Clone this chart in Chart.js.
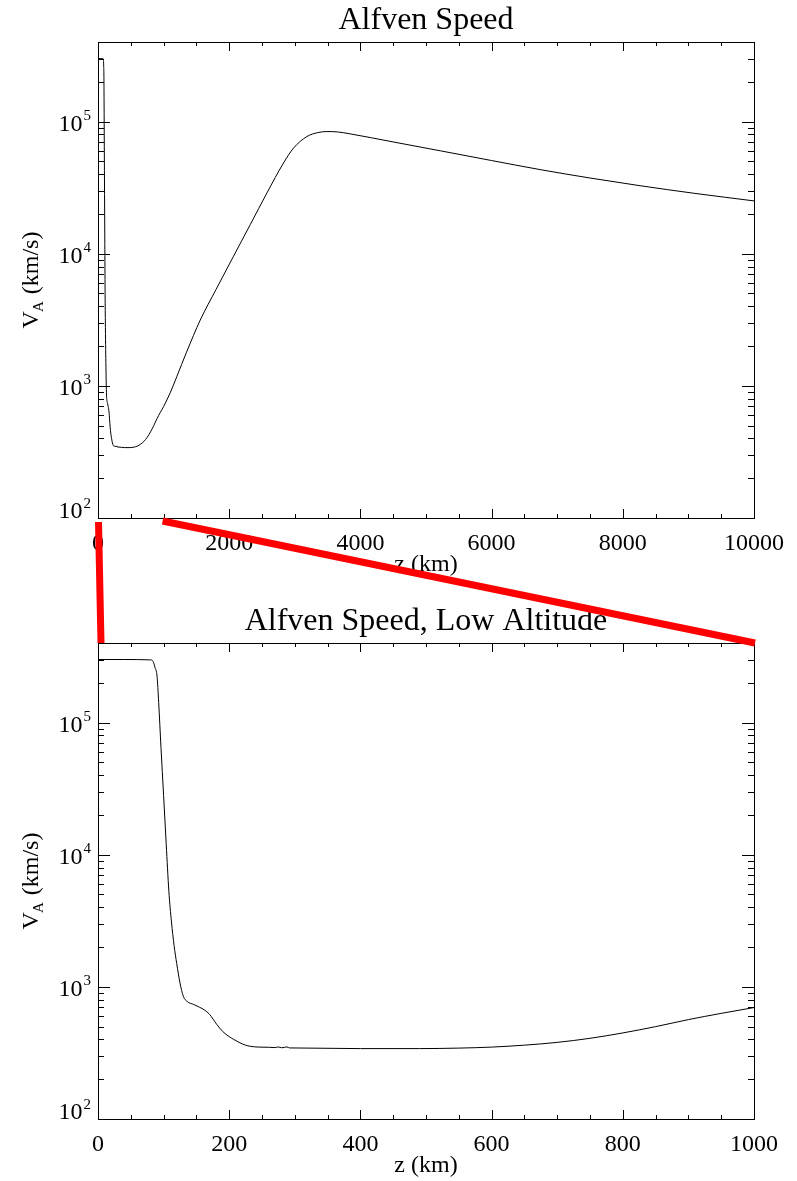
<!DOCTYPE html>
<html>
<head>
<meta charset="utf-8">
<script src="https://cdn.jsdelivr.net/npm/chart.js@4"></script>
<style>
  body { margin: 0; background: #fff; }
  #wrap { position: relative; width: 797px; height: 1181px; }
  canvas { position: absolute; left: 0; display: block; }
</style>
</head>
<body>
<div id="wrap">
  <canvas id="topChart" width="797" height="590" style="top:0"></canvas>
  <canvas id="lowChart" width="797" height="591" style="top:590px"></canvas>
  <canvas id="overlay" width="797" height="1181" style="top:0;pointer-events:none"></canvas>
</div>
<script>
// ---------- Data ----------

// low altitude profile, z in km
const lowZ = [0, 40, 80, 84, 87, 90, 92.5, 96, 100, 104, 108, 112, 116, 120, 125, 130, 136,
  146, 155, 162, 170, 181, 190, 200, 207, 215, 225, 232, 245, 260, 270, 275, 280,
  288, 292, 320, 400, 490, 550, 600, 650, 700, 750, 800, 850, 900, 950, 1000];
const lowVA = [3.0e5, 3.0e5, 2.98e5, 2.9e5, 2.6e5, 2.25e5, 1.42e5, 6.5e4, 2.8e4, 1.2e4, 5.3e3, 3.1e3,
  2.05e3, 1.5e3, 1.07e3, 850, 775, 735, 700, 670, 620, 520, 460, 420, 400, 380, 362, 355,
  350, 349, 347, 351, 346, 351, 345, 344, 341, 341, 344, 350, 362, 380, 408, 448, 500,
  565, 630, 697];

// higher altitude profile, z in km
const highZ = [1100, 1200, 1350, 1559, 1800, 2066, 2321, 2575, 2828, 2981, 3184, 3350, 3489, 3650,
  3844, 4500, 5216, 6000, 6739, 7500, 8263, 9100, 10000];
const highVA = [885, 1170, 1800, 3150, 5370, 9570, 1.66e4, 2.88e4, 4.86e4, 6.3e4, 7.7e4, 8.25e4, 8.4e4,
  8.35e4, 8.07e4, 7.01e4, 6.01e4, 5.07e4, 4.33e4, 3.74e4, 3.27e4, 2.86e4, 2.51e4];

const topXTicks = [0, 2000, 4000, 6000, 8000, 10000];
const lowXTicks = [0, 200, 400, 600, 800, 1000];
const yDecades = [100, 1000, 10000, 100000];
const yMin = 100, yMax = 4e5;

const FONT = '"Liberation Serif", "Times New Roman", serif';

// ---------- IDL style axes: inside ticks on all sides, 10^n labels ----------
function line(ctx, x1, y1, x2, y2) {
  ctx.beginPath(); ctx.moveTo(x1, y1); ctx.lineTo(x2, y2); ctx.stroke();
}

const idlAxes = {
  id: "idlAxes",
  afterDraw(chart, args, opts) {
    const { ctx, chartArea: a, scales: { x, y } } = chart;
    ctx.save();
    ctx.strokeStyle = "#000";
    ctx.lineWidth = 1;
    ctx.strokeRect(Math.round(a.left) + 0.5, Math.round(a.top) + 0.5,
      Math.round(a.right - a.left), Math.round(a.bottom - a.top));

    // x ticks, 4 minor intervals per major
    const ticks = opts.xTicks;
    const step = (ticks[1] - ticks[0]) / 4;
    for (let v = ticks[0]; v <= ticks[ticks.length - 1] + 1e-9; v += step) {
      const px = Math.round(x.getPixelForValue(v)) + 0.5;
      const len = ticks.includes(v) ? 9 : 4;
      line(ctx, px, a.bottom, px, a.bottom - len);
      line(ctx, px, a.top, px, a.top + len);
    }
    // y ticks, log minors
    yDecades.forEach(d => {
      for (let k = 1; k <= 9; k++) {
        const v = d * k;
        if (v < yMin || v > yMax) continue;
        const py = Math.round(y.getPixelForValue(v)) + 0.5;
        const len = k === 1 ? 12 : 6;
        line(ctx, a.left, py, a.left + len, py);
        line(ctx, a.right, py, a.right - len, py);
      }
    });

    ctx.fillStyle = "#000";
    ctx.textBaseline = "alphabetic";
    // x tick labels
    ctx.font = "24px " + FONT;
    ctx.textAlign = "center";
    ticks.forEach(v => ctx.fillText(String(v), x.getPixelForValue(v), a.bottom + 32));
    ctx.fillText("z (km)", (a.left + a.right) / 2, a.bottom + 53);

    // y tick labels 10^n (the lowest one is lifted off the x axis)
    yDecades.forEach(d => {
      const py = y.getPixelForValue(d);
      const base = d === yMin ? py : py + 9;
      const exp = String(Math.round(Math.log10(d)));
      ctx.font = "15px " + FONT;
      const ew = ctx.measureText(exp).width;
      ctx.textAlign = "right";
      ctx.fillText(exp, a.left - 7, base - 10.5);
      ctx.font = "24px " + FONT;
      ctx.fillText("10", a.left - 8 - ew, base);
    });

    // title
    ctx.textAlign = "center";
    ctx.font = "32px " + FONT;
    ctx.fillText(opts.title, (a.left + a.right) / 2, a.top - 12.7);

    // y axis title V_A (km/s), rotated
    ctx.save();
    ctx.translate(38, (a.top + a.bottom) / 2);
    ctx.rotate(-Math.PI / 2);
    ctx.textAlign = "left";
    ctx.font = "24px " + FONT;
    const wV = ctx.measureText("V").width;
    const wRest = ctx.measureText(" (km/s)").width;
    ctx.font = "15px " + FONT;
    const wA = ctx.measureText("A").width;
    let sx = -(wV + wA + wRest) / 2;
    ctx.font = "24px " + FONT;
    ctx.fillText("V", sx, 0);
    ctx.font = "15px " + FONT;
    ctx.fillText("A", sx + wV - 1, 5);
    ctx.font = "24px " + FONT;
    ctx.fillText(" (km/s)", sx + wV + wA, 0);
    ctx.restore();

    ctx.restore();
  }
};

function makeChart(id, zs, vs, xMax, xTicks, title, pad) {
  return new Chart(document.getElementById(id), {
    type: "line",
    data: {
      datasets: [{
        data: zs.map((z, i) => ({ x: z, y: vs[i] })),
        borderColor: "#000",
        borderWidth: 1,
        pointRadius: 0,
        cubicInterpolationMode: "monotone",
        fill: false
      }]
    },
    options: {
      responsive: false,
      animation: false,
      events: [],
      layout: { padding: pad },
      plugins: {
        legend: { display: false },
        tooltip: { enabled: false },
        idlAxes: { xTicks: xTicks, title: title }
      },
      scales: {
        x: {
          type: "linear", min: 0, max: xMax,
          grid: { display: false }, border: { display: false },
          ticks: { display: false },
          afterFit: s => { s.height = 0; }
        },
        y: {
          type: "logarithmic", min: yMin, max: yMax,
          grid: { display: false }, border: { display: false },
          ticks: { display: false },
          afterFit: s => { s.width = 0; }
        }
      }
    },
    plugins: [idlAxes]
  });
}

const topChart = makeChart("topChart", lowZ.concat(highZ), lowVA.concat(highVA), 10000,
  topXTicks, "Alfven Speed", { left: 98, right: 43, top: 42, bottom: 72 });
const lowChart = makeChart("lowChart", lowZ, lowVA, 1000,
  lowXTicks, "Alfven Speed, Low Altitude", { left: 98, right: 43, top: 53, bottom: 62 });

// ---------- Red zoom connectors ----------
const ov = document.getElementById("overlay").getContext("2d");
const tA = topChart.chartArea, lA = lowChart.chartArea;
const lowOffset = 590;
const zoomMax = lowXTicks[lowXTicks.length - 1];
ov.strokeStyle = "#ff0000";
ov.lineWidth = 7;
ov.lineCap = "butt";
ov.beginPath();
ov.moveTo(topChart.scales.x.getPixelForValue(0) + 0.5, tA.bottom + 4);
ov.lineTo(lowChart.scales.x.getPixelForValue(0) + 3, lowOffset + lA.top);
ov.stroke();
ov.beginPath();
ov.moveTo(topChart.scales.x.getPixelForValue(zoomMax) - 1, tA.bottom + 3);
ov.lineTo(lowChart.scales.x.getPixelForValue(zoomMax) + 1, lowOffset + lA.top);
ov.stroke();
</script>
</body>
</html>
